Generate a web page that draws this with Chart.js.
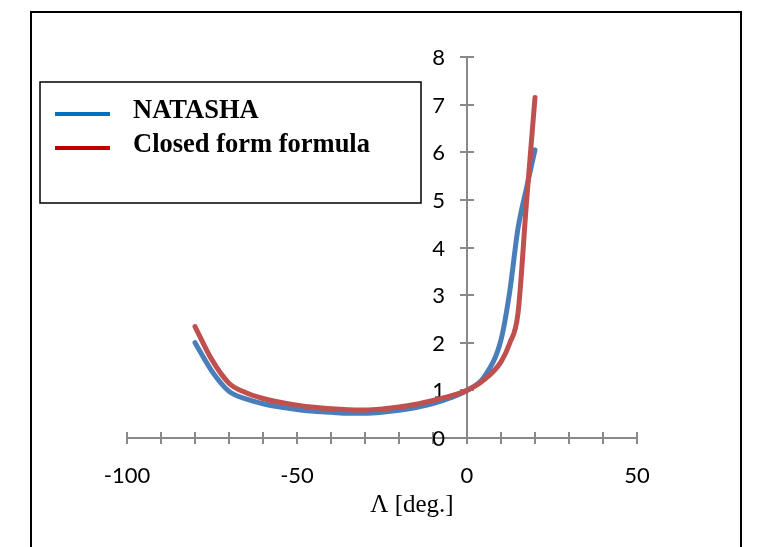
<!DOCTYPE html>
<html>
<head>
<meta charset="utf-8">
<script src="https://cdn.jsdelivr.net/npm/chart.js@4/dist/chart.umd.min.js"></script>
<style>
  html, body { margin: 0; padding: 0; background: #ffffff; }
  #wrap { width: 769px; height: 547px; }
</style>
</head>
<body>
<div id="wrap"><canvas id="chart" width="769" height="547"></canvas></div>
<script>
// Sweep angle Λ in degrees, NATASHA results
const natashaAngles = [-80, -75, -70, -65, -60, -55, -50, -45, -40, -35, -30, -25, -20, -15, -10, -5, 0, 5, 10, 12.5, 15, 17.5, 20];
const natashaValues = [2.00, 1.40, 0.98, 0.82, 0.72, 0.65, 0.60, 0.56, 0.54, 0.52, 0.52, 0.54, 0.58, 0.64, 0.72, 0.84, 1.00, 1.28, 2.06, 3.04, 4.40, 5.25, 6.05];
// Sweep angle Λ in degrees, closed form formula
const closedFormAngles = [-80, -75, -70, -65, -60, -55, -50, -45, -40, -35, -30, -25, -20, -15, -10, -5, 0, 5, 10, 12.5, 15, 17.5, 20];
const closedFormValues = [2.34, 1.64, 1.15, 0.95, 0.83, 0.75, 0.69, 0.645, 0.615, 0.595, 0.59, 0.61, 0.65, 0.71, 0.79, 0.88, 1.00, 1.22, 1.60, 1.98, 2.62, 4.95, 7.15];

const seriesNames = ['NATASHA', 'Closed form formula'];
const lineColors = ['#4A7EBB', '#C0504D'];
const legendColors = ['#0070C0', '#C00000'];

const xLabelValues = [-100, -50, 0, 50];
const yTickValues = [0, 1, 2, 3, 4, 5, 6, 7, 8];
const axisTitle = 'Λ [deg.]';

const axisGray = '#898989';
const tickFont = { family: 'Lato', size: 22 };

function toPoints(xs, ys) {
  return xs.map((x, i) => ({ x: x, y: ys[i] }));
}

// white page, black frame, crossing tick marks, y labels, axis title and the boxed legend
const decorations = {
  id: 'decorations',
  beforeDraw(chart) {
    const ctx = chart.ctx;
    ctx.save();
    ctx.fillStyle = '#ffffff';
    ctx.fillRect(0, 0, chart.width, chart.height);
    ctx.strokeStyle = '#000000';
    ctx.lineWidth = 2;
    ctx.beginPath();
    ctx.moveTo(31, chart.height + 5);
    ctx.lineTo(31, 12);
    ctx.lineTo(741, 12);
    ctx.lineTo(741, chart.height + 5);
    ctx.stroke();
    ctx.restore();
  },
  beforeDatasetsDraw(chart) {
    const ctx = chart.ctx;
    const xs = chart.scales.x, ys = chart.scales.y;
    const y0 = ys.getPixelForValue(0);
    const x0 = xs.getPixelForValue(0);
    ctx.save();
    ctx.strokeStyle = axisGray;
    ctx.lineWidth = 2;
    ctx.beginPath();
    xs.ticks.forEach(t => {
      const px = Math.round(xs.getPixelForValue(t.value));
      ctx.moveTo(px, y0 - 6);
      ctx.lineTo(px, y0 + 6);
    });
    ys.ticks.forEach(t => {
      const py = Math.round(ys.getPixelForValue(t.value));
      ctx.moveTo(x0 - 7, py);
      ctx.lineTo(x0 + 7, py);
    });
    ctx.stroke();

    // value labels left of the vertical axis
    ctx.fillStyle = '#000000';
    ctx.font = tickFont.size + 'px ' + tickFont.family;
    ctx.textAlign = 'right';
    ctx.textBaseline = 'middle';
    yTickValues.forEach(v => {
      ctx.fillText(String(v), x0 - 22, ys.getPixelForValue(v) + 1);
    });
    ctx.restore();
  },
  afterDraw(chart) {
    const ctx = chart.ctx;
    ctx.save();
    // axis title
    ctx.fillStyle = '#000000';
    ctx.font = '25px "Liberation Serif"';
    ctx.textAlign = 'center';
    ctx.textBaseline = 'alphabetic';
    ctx.fillText(axisTitle, 412, 512);

    // legend box
    ctx.strokeStyle = '#000000';
    ctx.lineWidth = 1.5;
    ctx.strokeRect(40, 82, 381, 121);
    const rows = [114, 148];
    ctx.font = 'bold 26.5px "Liberation Serif"';
    ctx.textAlign = 'left';
    seriesNames.forEach((name, i) => {
      ctx.strokeStyle = legendColors[i];
      ctx.lineWidth = 4;
      ctx.beginPath();
      ctx.moveTo(55, rows[i]);
      ctx.lineTo(110, rows[i]);
      ctx.stroke();
      ctx.fillStyle = '#000000';
      ctx.fillText(name, 133, rows[i] + 4);
    });
    ctx.restore();
  }
};

new Chart(document.getElementById('chart'), {
  type: 'line',
  data: {
    datasets: [
      {
        label: seriesNames[0],
        data: toPoints(natashaAngles, natashaValues),
        borderColor: lineColors[0],
        order: 1
      },
      {
        label: seriesNames[1],
        data: toPoints(closedFormAngles, closedFormValues),
        borderColor: lineColors[1],
        order: 0
      }
    ]
  },
  options: {
    responsive: false,
    animation: false,
    devicePixelRatio: 1,
    layout: { padding: { left: 127, right: 132, top: 57, bottom: 109 } },
    elements: {
      line: {
        borderWidth: 5,
        cubicInterpolationMode: 'monotone',
        borderCapStyle: 'round',
        borderJoinStyle: 'round',
        fill: false
      },
      point: { radius: 0, hoverRadius: 0 }
    },
    plugins: {
      legend: { display: false },
      tooltip: { enabled: false }
    },
    scales: {
      x: {
        type: 'linear',
        position: { y: 0 },
        min: -100,
        max: 50,
        grid: { display: true, drawOnChartArea: false, drawTicks: false },
        border: { display: true, color: axisGray, width: 2 },
        ticks: {
          stepSize: 10,
          autoSkip: false,
          maxRotation: 0,
          padding: 25,
          color: '#000000',
          font: tickFont,
          callback: v => (xLabelValues.includes(v) ? String(v) : '')
        }
      },
      y: {
        type: 'linear',
        position: { x: 0 },
        min: yTickValues[0],
        max: yTickValues[yTickValues.length - 1],
        grid: { display: true, drawOnChartArea: false, drawTicks: false },
        border: { display: true, color: axisGray, width: 2 },
        ticks: {
          display: false,
          stepSize: 1
        }
      }
    }
  },
  plugins: [decorations]
});
</script>
</body>
</html>
